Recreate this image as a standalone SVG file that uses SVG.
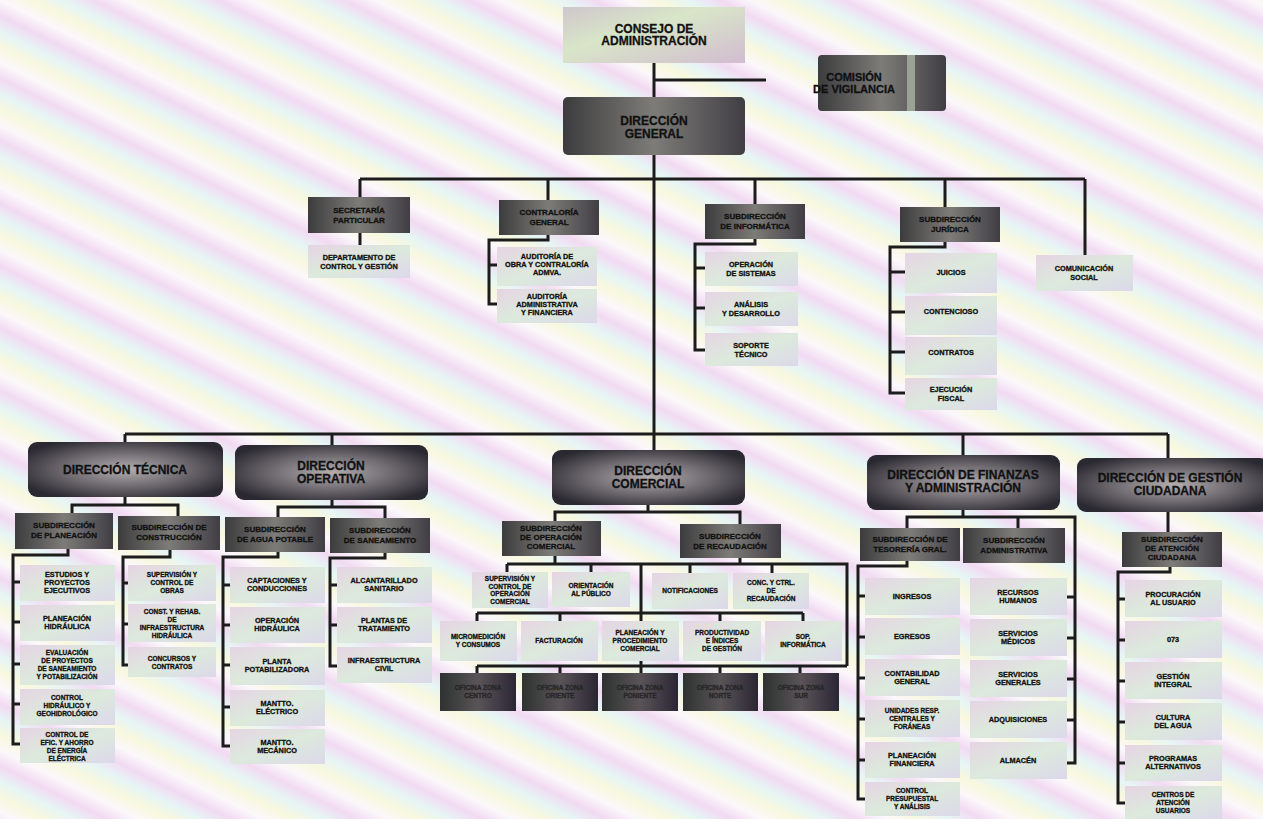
<svg xmlns="http://www.w3.org/2000/svg" width="1263" height="819" viewBox="0 0 1263 819">
<defs>
<linearGradient id="bg" gradientUnits="userSpaceOnUse" x1="0" y1="0" x2="-25" y2="50" spreadMethod="repeat">
<stop offset="0" stop-color="#fbf8fb"/><stop offset="0.25" stop-color="#f2daf2"/><stop offset="0.5" stop-color="#e6f5f5"/><stop offset="0.75" stop-color="#f8f8de"/><stop offset="1" stop-color="#fbf8fb"/>
</linearGradient>
<radialGradient id="gh" cx="0.5" cy="0.5" r="0.6">
<stop offset="0" stop-color="#b4aeb0"/><stop offset="0.55" stop-color="#6a666c"/><stop offset="1" stop-color="#2a2830"/>
</radialGradient>
<linearGradient id="gd" x1="0" y1="0" x2="1" y2="0">
<stop offset="0" stop-color="#3c3c3e"/><stop offset="0.5" stop-color="#7e7c78"/><stop offset="1" stop-color="#403e44"/>
</linearGradient>
<linearGradient id="gk" x1="0" y1="0" x2="1" y2="0">
<stop offset="0" stop-color="#2e3230"/><stop offset="0.5" stop-color="#5a5458"/><stop offset="1" stop-color="#2a2634"/>
</linearGradient>
<linearGradient id="gl" x1="0" y1="0" x2="1" y2="1">
<stop offset="0" stop-color="#e6d4e4"/><stop offset="0.5" stop-color="#dceadc"/><stop offset="1" stop-color="#dcd8ea"/>
</linearGradient>
<linearGradient id="gt" x1="0" y1="0" x2="1" y2="1">
<stop offset="0" stop-color="#cfc6cc"/><stop offset="0.4" stop-color="#d8e6c8"/><stop offset="1" stop-color="#d2bcd0"/>
</linearGradient>
<style>
.t{font-family:"Liberation Sans",Arial,sans-serif;font-weight:bold;fill:#111;stroke:#111;stroke-width:0.3;text-anchor:middle}
.h1{font-size:12px}.h2{font-size:8px}.h3{font-size:7.3px}.h4{font-size:6.5px}
.dh{fill:url(#gh)}.dk{fill:url(#gd)}.dc{fill:url(#gk)}.lt{fill:url(#gl)}
.c{stroke:#1c1c1c;stroke-width:3;fill:none}
.dt{fill:#262626;stroke:#262626}
</style>
</defs>
<rect width="1263" height="819" fill="url(#bg)"/>

<g id="connectors" class="c">
<path d="M654,63V97M654,80H766M654,155V450M360,179H1085M360,179V197M548,179V200M755,179V204M945,179V207M1085,179V255"/>
<path d="M360,233V245"/>
<path d="M548,235V240H489V304H497M489,265H497"/>
<path d="M755,239V244H695V350H705M695,268H705M695,308H705"/>
<path d="M945,242V247H890V393H905M890,272H905M890,312H905M890,352H905"/>
<path d="M125,434H1168M125,434V442M332,434V445M963,434V455M1168,434V458"/>
<path d="M125,497V505M72,513V505H178V516"/>
<path d="M68,549V555H13V744H20M13,582H20M13,622H20M13,664H20M13,704H20"/>
<path d="M170,550V557H123V665H128M123,583H128M123,624H128"/>
<path d="M332,500V507M278,517V507H385V518"/>
<path d="M278,552V557H223V746H230M223,585H230M223,625H230M223,665H230M223,707H230"/>
<path d="M385,553V558H330V666H337M330,585H337M330,625H337"/>
<path d="M648,505V512M555,521V512H740V524"/>
<path d="M555,556V564M740,558V564M507,564H847V666M507,564V572M591,564V572M690,564V573M772,564V573M641,564V621"/>
<path d="M477,613H803M477,613V621M560,613V621M720,613V621M803,613V621"/>
<path d="M477,666H847M477,666V673M560,666V673M641,661V673M720,666V673M800,666V673"/>
<path d="M963,510V517M907,528V517H1075V763H1067M1018,517V528M1075,597H1067M1075,638H1067M1075,679H1067M1075,720H1067"/>
<path d="M907,561V566H858V799H865M858,596H865M858,637H865M858,678H865M858,719H865M858,760H865"/>
<path d="M1168,512V532M1170,567V572H1118V803H1125M1118,599H1125M1118,640H1125M1118,681H1125M1118,722H1125M1118,763H1125"/>
</g>

<g id="consejo"><rect x="563" y="7" width="182" height="56" style="fill:url(#gt)"/><text class="t h1" x="654" y="33">CONSEJO DE<tspan x="654" dy="12">ADMINISTRACIÓN</tspan></text></g>
<g id="comision"><rect x="818" y="55" width="128" height="56" rx="4" class="dk"/><rect x="907" y="55" width="8" height="56" fill="#9aa296"/><text class="t h1" x="854" y="81" style="font-size:11px">COMISIÓN<tspan x="854" dy="12">DE VIGILANCIA</tspan></text></g>
<g id="dg"><rect x="563" y="97" width="182" height="58" rx="5" class="dk"/><text class="t h1" x="654" y="125">DIRECCIÓN<tspan x="654" dy="13">GENERAL</tspan></text></g>

<g id="secretaria"><rect x="308" y="197" width="102" height="36" class="dk"/><text class="t h2" x="359" y="213">SECRETARÍA<tspan x="359" dy="10">PARTICULAR</tspan></text></g>
<g id="depto-control"><rect x="308" y="245" width="102" height="33" class="lt"/><text class="t h3" x="359" y="260">DEPARTAMENTO DE<tspan x="359" dy="9">CONTROL Y GESTIÓN</tspan></text></g>
<g id="contraloria"><rect x="499" y="200" width="100" height="35" class="dk"/><text class="t h2" x="549" y="215">CONTRALORÍA<tspan x="549" dy="10">GENERAL</tspan></text></g>
<g id="aud-obra"><rect x="497" y="247" width="100" height="39" class="lt"/><text class="t h3" x="547" y="259">AUDITORÍA DE<tspan x="547" dy="8">OBRA Y CONTRALORÍA</tspan><tspan x="547" dy="8">ADMVA.</tspan></text></g>
<g id="aud-adm"><rect x="497" y="289" width="100" height="34" class="lt"/><text class="t h3" x="547" y="299">AUDITORÍA<tspan x="547" dy="8">ADMINISTRATIVA</tspan><tspan x="547" dy="8">Y FINANCIERA</tspan></text></g>

<g id="sub-informatica"><rect x="705" y="204" width="100" height="35" class="dk"/><text class="t h2" x="755" y="219">SUBDIRECCIÓN<tspan x="755" dy="10">DE INFORMÁTICA</tspan></text></g>
<g id="op-sistemas"><rect x="705" y="252" width="93" height="34" class="lt"/><text class="t h3" x="751" y="267">OPERACIÓN<tspan x="751" dy="9">DE SISTEMAS</tspan></text></g>
<g id="analisis"><rect x="705" y="292" width="93" height="34" class="lt"/><text class="t h3" x="751" y="307">ANÁLISIS<tspan x="751" dy="9">Y DESARROLLO</tspan></text></g>
<g id="soporte"><rect x="705" y="333" width="93" height="33" class="lt"/><text class="t h3" x="751" y="348">SOPORTE<tspan x="751" dy="9">TÉCNICO</tspan></text></g>

<g id="sub-juridica"><rect x="900" y="207" width="100" height="35" class="dk"/><text class="t h2" x="950" y="222">SUBDIRECCIÓN<tspan x="950" dy="10">JURÍDICA</tspan></text></g>
<g id="juicios"><rect x="905" y="253" width="92" height="40" class="lt"/><text class="t h3" x="951" y="275">JUICIOS</text></g>
<g id="contencioso"><rect x="905" y="296" width="92" height="39" class="lt"/><text class="t h3" x="951" y="314">CONTENCIOSO</text></g>
<g id="contratos"><rect x="905" y="337" width="92" height="38" class="lt"/><text class="t h3" x="951" y="355">CONTRATOS</text></g>
<g id="ejecucion"><rect x="905" y="378" width="92" height="32" class="lt"/><text class="t h3" x="951" y="392">EJECUCIÓN<tspan x="951" dy="9">FISCAL</tspan></text></g>

<g id="comunicacion"><rect x="1036" y="255" width="97" height="36" class="lt"/><text class="t h3" x="1084" y="271">COMUNICACIÓN<tspan x="1084" dy="9">SOCIAL</tspan></text></g>

<g id="dir-tecnica"><rect x="28" y="442" width="195" height="55" rx="9" class="dh"/><text class="t h1" x="125" y="474">DIRECCIÓN TÉCNICA</text></g>
<g id="sub-planeacion"><rect x="15" y="513" width="98" height="36" class="dk"/><text class="t h2" x="64" y="528">SUBDIRECCIÓN<tspan x="64" dy="10">DE PLANEACIÓN</tspan></text></g>
<g id="sub-construccion"><rect x="118" y="516" width="102" height="34" class="dk"/><text class="t h2" x="169" y="530">SUBDIRECCIÓN DE<tspan x="169" dy="10">CONSTRUCCIÓN</tspan></text></g>
<g id="estudios"><rect x="20" y="565" width="95" height="36" class="lt"/><text class="t h3" x="67" y="577">ESTUDIOS Y<tspan x="67" dy="8">PROYECTOS</tspan><tspan x="67" dy="8">EJECUTIVOS</tspan></text></g>
<g id="planeacion-h"><rect x="20" y="605" width="95" height="36" class="lt"/><text class="t h3" x="67" y="621">PLANEACIÓN<tspan x="67" dy="8">HIDRÁULICA</tspan></text></g>
<g id="evaluacion"><rect x="20" y="645" width="95" height="40" class="lt"/><text class="t h4" x="67" y="655">EVALUACIÓN<tspan x="67" dy="8">DE PROYECTOS</tspan><tspan x="67" dy="8">DE SANEAMIENTO</tspan><tspan x="67" dy="8">Y POTABILIZACIÓN</tspan></text></g>
<g id="control-h"><rect x="20" y="689" width="95" height="36" class="lt"/><text class="t h4" x="67" y="700">CONTROL<tspan x="67" dy="8">HIDRÁULICO Y</tspan><tspan x="67" dy="8">GEOHIDROLÓGICO</tspan></text></g>
<g id="control-efic"><rect x="20" y="728" width="95" height="35" class="lt"/><text class="t h4" x="67" y="737">CONTROL DE<tspan x="67" dy="8">EFIC. Y AHORRO</tspan><tspan x="67" dy="8">DE ENERGÍA</tspan><tspan x="67" dy="8">ELÉCTRICA</tspan></text></g>
<g id="supervision"><rect x="128" y="565" width="88" height="36" class="lt"/><text class="t h4" x="172" y="577">SUPERVISIÓN Y<tspan x="172" dy="8">CONTROL DE</tspan><tspan x="172" dy="8">OBRAS</tspan></text></g>
<g id="const-rehab"><rect x="128" y="604" width="88" height="38" class="lt"/><text class="t h4" x="172" y="614">CONST. Y REHAB.<tspan x="172" dy="8">DE</tspan><tspan x="172" dy="8">INFRAESTRUCTURA</tspan><tspan x="172" dy="8">HIDRÁULICA</tspan></text></g>
<g id="concursos"><rect x="128" y="647" width="88" height="30" class="lt"/><text class="t h4" x="172" y="661">CONCURSOS Y<tspan x="172" dy="8">CONTRATOS</tspan></text></g>

<g id="dir-operativa"><rect x="235" y="445" width="193" height="55" rx="9" class="dh"/><text class="t h1" x="331" y="470">DIRECCIÓN<tspan x="331" dy="13">OPERATIVA</tspan></text></g>
<g id="sub-agua"><rect x="225" y="517" width="100" height="35" class="dk"/><text class="t h2" x="275" y="532">SUBDIRECCIÓN<tspan x="275" dy="10">DE AGUA POTABLE</tspan></text></g>
<g id="sub-saneamiento"><rect x="330" y="518" width="100" height="35" class="dk"/><text class="t h2" x="380" y="533">SUBDIRECCIÓN<tspan x="380" dy="10">DE SANEAMIENTO</tspan></text></g>
<g id="captaciones"><rect x="230" y="567" width="95" height="36" class="lt"/><text class="t h3" x="277" y="583">CAPTACIONES Y<tspan x="277" dy="8">CONDUCCIONES</tspan></text></g>
<g id="operacion-h"><rect x="230" y="607" width="95" height="36" class="lt"/><text class="t h3" x="277" y="623">OPERACIÓN<tspan x="277" dy="8">HIDRÁULICA</tspan></text></g>
<g id="planta-pot"><rect x="230" y="647" width="95" height="38" class="lt"/><text class="t h3" x="277" y="664">PLANTA<tspan x="277" dy="8">POTABILIZADORA</tspan></text></g>
<g id="mantto-e"><rect x="230" y="690" width="95" height="36" class="lt"/><text class="t h3" x="277" y="706">MANTTO.<tspan x="277" dy="8">ELÉCTRICO</tspan></text></g>
<g id="mantto-m"><rect x="230" y="729" width="95" height="35" class="lt"/><text class="t h3" x="277" y="745">MANTTO.<tspan x="277" dy="8">MECÁNICO</tspan></text></g>
<g id="alcantarillado"><rect x="337" y="567" width="95" height="36" class="lt"/><text class="t h3" x="384" y="583">ALCANTARILLADO<tspan x="384" dy="8">SANITARIO</tspan></text></g>
<g id="plantas-trat"><rect x="337" y="607" width="95" height="36" class="lt"/><text class="t h3" x="384" y="623">PLANTAS DE<tspan x="384" dy="8">TRATAMIENTO</tspan></text></g>
<g id="infra-civil"><rect x="337" y="647" width="95" height="36" class="lt"/><text class="t h3" x="384" y="663">INFRAESTRUCTURA<tspan x="384" dy="8">CIVIL</tspan></text></g>

<g id="dir-comercial"><rect x="552" y="450" width="193" height="55" rx="9" class="dh"/><text class="t h1" x="648" y="475">DIRECCIÓN<tspan x="648" dy="13">COMERCIAL</tspan></text></g>
<g id="sub-op-comercial"><rect x="502" y="521" width="99" height="35" class="dk"/><text class="t h2" x="551" y="531">SUBDIRECCIÓN<tspan x="551" dy="9">DE OPERACIÓN</tspan><tspan x="551" dy="9">COMERCIAL</tspan></text></g>
<g id="sub-recaudacion"><rect x="680" y="524" width="101" height="34" class="dk"/><text class="t h2" x="730" y="539">SUBDIRECCIÓN<tspan x="730" dy="10">DE RECAUDACIÓN</tspan></text></g>
<g id="superv-op"><rect x="472" y="572" width="76" height="36" class="lt"/><text class="t h4" x="510" y="581">SUPERVISIÓN Y<tspan x="510" dy="7.5">CONTROL DE</tspan><tspan x="510" dy="7.5">OPERACIÓN</tspan><tspan x="510" dy="7.5">COMERCIAL</tspan></text></g>
<g id="orientacion"><rect x="552" y="572" width="78" height="35" class="lt"/><text class="t h4" x="591" y="588">ORIENTACIÓN<tspan x="591" dy="8">AL PÚBLICO</tspan></text></g>
<g id="notificaciones"><rect x="652" y="573" width="76" height="36" class="lt"/><text class="t h4" x="690" y="593">NOTIFICACIONES</text></g>
<g id="conc-ctrl"><rect x="733" y="573" width="76" height="36" class="lt"/><text class="t h4" x="771" y="585">CONC. Y CTRL.<tspan x="771" dy="8">DE</tspan><tspan x="771" dy="8">RECAUDACIÓN</tspan></text></g>
<g id="micromedicion"><rect x="440" y="621" width="77" height="40" class="lt"/><text class="t h4" x="478" y="639">MICROMEDICIÓN<tspan x="478" dy="8">Y CONSUMOS</tspan></text></g>
<g id="facturacion"><rect x="521" y="621" width="77" height="40" class="lt"/><text class="t h4" x="559" y="643">FACTURACIÓN</text></g>
<g id="planeacion-c"><rect x="602" y="621" width="77" height="40" class="lt"/><text class="t h4" x="640" y="635">PLANEACIÓN Y<tspan x="640" dy="8">PROCEDIMIENTO</tspan><tspan x="640" dy="8">COMERCIAL</tspan></text></g>
<g id="productividad"><rect x="683" y="621" width="78" height="40" class="lt"/><text class="t h4" x="722" y="635">PRODUCTIVIDAD<tspan x="722" dy="8">E ÍNDICES</tspan><tspan x="722" dy="8">DE GESTIÓN</tspan></text></g>
<g id="sop-informatica"><rect x="765" y="621" width="77" height="40" class="lt"/><text class="t h4" x="803" y="639">SOP.<tspan x="803" dy="8">INFORMÁTICA</tspan></text></g>
<g id="oficina-1"><rect x="440" y="673" width="76" height="38" class="dc"/><text class="t h4 dt" x="478" y="690">OFICINA ZONA<tspan x="478" dy="8">CENTRO</tspan></text></g>
<g id="oficina-2"><rect x="522" y="673" width="76" height="38" class="dc"/><text class="t h4 dt" x="560" y="690">OFICINA ZONA<tspan x="560" dy="8">ORIENTE</tspan></text></g>
<g id="oficina-3"><rect x="602" y="673" width="76" height="38" class="dc"/><text class="t h4 dt" x="640" y="690">OFICINA ZONA<tspan x="640" dy="8">PONIENTE</tspan></text></g>
<g id="oficina-4"><rect x="683" y="673" width="75" height="38" class="dc"/><text class="t h4 dt" x="720" y="690">OFICINA ZONA<tspan x="720" dy="8">NORTE</tspan></text></g>
<g id="oficina-5"><rect x="763" y="673" width="76" height="38" class="dc"/><text class="t h4 dt" x="801" y="690">OFICINA ZONA<tspan x="801" dy="8">SUR</tspan></text></g>

<g id="dir-finanzas"><rect x="867" y="455" width="193" height="55" rx="9" class="dh"/><text class="t h1" x="963" y="479">DIRECCIÓN DE FINANZAS<tspan x="963" dy="13">Y ADMINISTRACIÓN</tspan></text></g>
<g id="sub-tesoreria"><rect x="860" y="528" width="100" height="33" class="dk"/><text class="t h2" x="910" y="542">SUBDIRECCIÓN DE<tspan x="910" dy="10">TESORERÍA GRAL.</tspan></text></g>
<g id="sub-administrativa"><rect x="963" y="528" width="102" height="35" class="dk"/><text class="t h2" x="1014" y="543">SUBDIRECCIÓN<tspan x="1014" dy="10">ADMINISTRATIVA</tspan></text></g>
<g id="ingresos"><rect x="865" y="578" width="95" height="37" class="lt"/><text class="t h3" x="912" y="599">INGRESOS</text></g>
<g id="egresos"><rect x="865" y="618" width="95" height="37" class="lt"/><text class="t h3" x="912" y="639">EGRESOS</text></g>
<g id="contabilidad"><rect x="865" y="659" width="95" height="37" class="lt"/><text class="t h3" x="912" y="676">CONTABILIDAD<tspan x="912" dy="8">GENERAL</tspan></text></g>
<g id="unidades"><rect x="865" y="700" width="95" height="37" class="lt"/><text class="t h4" x="912" y="713">UNIDADES RESP.<tspan x="912" dy="8">CENTRALES Y</tspan><tspan x="912" dy="8">FORÁNEAS</tspan></text></g>
<g id="planeacion-f"><rect x="865" y="742" width="95" height="36" class="lt"/><text class="t h3" x="912" y="758">PLANEACIÓN<tspan x="912" dy="8">FINANCIERA</tspan></text></g>
<g id="control-pres"><rect x="865" y="782" width="95" height="34" class="lt"/><text class="t h4" x="912" y="793">CONTROL<tspan x="912" dy="8">PRESUPUESTAL</tspan><tspan x="912" dy="8">Y ANÁLISIS</tspan></text></g>
<g id="rh"><rect x="970" y="578" width="97" height="37" class="lt"/><text class="t h3" x="1018" y="595">RECURSOS<tspan x="1018" dy="8">HUMANOS</tspan></text></g>
<g id="serv-medicos"><rect x="970" y="619" width="97" height="37" class="lt"/><text class="t h3" x="1018" y="636">SERVICIOS<tspan x="1018" dy="8">MÉDICOS</tspan></text></g>
<g id="serv-generales"><rect x="970" y="660" width="97" height="37" class="lt"/><text class="t h3" x="1018" y="677">SERVICIOS<tspan x="1018" dy="8">GENERALES</tspan></text></g>
<g id="adquisiciones"><rect x="970" y="701" width="97" height="37" class="lt"/><text class="t h3" x="1018" y="722">ADQUISICIONES</text></g>
<g id="almacen"><rect x="970" y="742" width="97" height="37" class="lt"/><text class="t h3" x="1018" y="763">ALMACÉN</text></g>

<g id="dir-gestion"><rect x="1077" y="458" width="192" height="54" rx="9" class="dh"/><text class="t h1" x="1170" y="482">DIRECCIÓN DE GESTIÓN<tspan x="1170" dy="13">CIUDADANA</tspan></text></g>
<g id="sub-atencion"><rect x="1122" y="532" width="100" height="35" class="dk"/><text class="t h2" x="1172" y="542">SUBDIRECCIÓN<tspan x="1172" dy="9">DE ATENCIÓN</tspan><tspan x="1172" dy="9">CIUDADANA</tspan></text></g>
<g id="procuracion"><rect x="1125" y="580" width="97" height="37" class="lt"/><text class="t h3" x="1173" y="597">PROCURACIÓN<tspan x="1173" dy="8">AL USUARIO</tspan></text></g>
<g id="n073"><rect x="1125" y="621" width="97" height="37" class="lt"/><text class="t h3" x="1173" y="642">073</text></g>
<g id="gestion-int"><rect x="1125" y="662" width="97" height="37" class="lt"/><text class="t h3" x="1173" y="679">GESTIÓN<tspan x="1173" dy="8">INTEGRAL</tspan></text></g>
<g id="cultura"><rect x="1125" y="703" width="97" height="37" class="lt"/><text class="t h3" x="1173" y="720">CULTURA<tspan x="1173" dy="8">DEL AGUA</tspan></text></g>
<g id="programas"><rect x="1125" y="745" width="97" height="36" class="lt"/><text class="t h3" x="1173" y="761">PROGRAMAS<tspan x="1173" dy="8">ALTERNATIVOS</tspan></text></g>
<g id="centros"><rect x="1125" y="786" width="97" height="33" class="lt"/><text class="t h4" x="1173" y="797">CENTROS DE<tspan x="1173" dy="8">ATENCIÓN</tspan><tspan x="1173" dy="8">USUARIOS</tspan></text></g>
</svg>
